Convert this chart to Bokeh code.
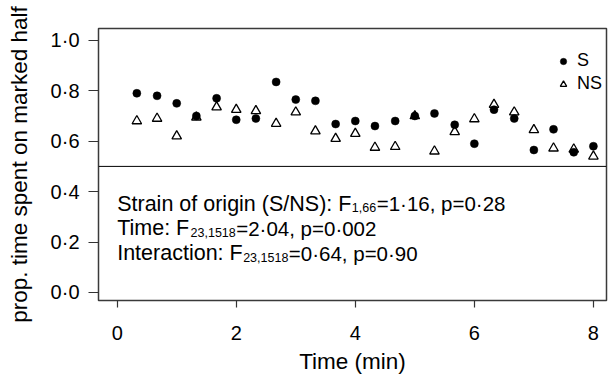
from bokeh.plotting import figure
from bokeh.models import (Range1d, FixedTicker, CustomJSTickFormatter, Span, Legend,
                          LegendItem, Label, ColumnDataSource)
from bokeh.embed import file_html
from bokeh.resources import INLINE

# ---- data ----
time_min = [0.33, 0.67, 1.00, 1.33, 1.67, 2.00, 2.33, 2.67, 3.00, 3.33, 3.67, 4.00,
            4.33, 4.67, 5.00, 5.33, 5.67, 6.00, 6.33, 6.67, 7.00, 7.33, 7.67, 8.00]
s_values = [0.79, 0.78, 0.75, 0.70, 0.77, 0.685, 0.69, 0.835, 0.765, 0.76, 0.668, 0.68,
            0.66, 0.68, 0.70, 0.71, 0.665, 0.59, 0.725, 0.69, 0.565, 0.647, 0.556, 0.58]
ns_values = [0.68, 0.69, 0.62, 0.695, 0.735, 0.725, 0.72, 0.67, 0.715, 0.64, 0.61, 0.63,
             0.575, 0.578, 0.70, 0.56, 0.637, 0.688, 0.745, 0.715, 0.645, 0.572, 0.568, 0.54]
series_names = ["S", "NS"]
x_ticks = [0, 2, 4, 6, 8]
y_ticks = [0.0, 0.2, 0.4, 0.6, 0.8, 1.0]
reference_level = 0.5
x_title = "Time (min)"
y_title = "prop. time spent on marked half"

# statistics annotation: (text before subscript, subscript, text after subscript)
stat_lines = [
    ("Strain of origin (S/NS): F", "1,66", "=1\u00b716, p=0\u00b728"),
    ("Time: F", "23,1518", "=2\u00b704, p=0\u00b7002"),
    ("Interaction: F", "23,1518", "=0\u00b764, p=0\u00b790"),
]

FONT = "Liberation Sans"

# Arial/Liberation Sans advance widths (per 1000 em) for layout of subscripts
W = {' ': 278, 'S': 667, 't': 278, 'r': 333, 'a': 556, 'i': 222, 'n': 556, 'o': 556,
     'f': 278, 'g': 556, '(': 333, ')': 333, '/': 278, 'N': 722, ':': 278, 'F': 611,
     'T': 611, 'm': 833, 'e': 556, 'I': 278, 'c': 500, ',': 278, '=': 584, 'p': 556,
     '\u00b7': 333}
for d in "0123456789":
    W[d] = 556


def text_width(s, size):
    return sum(W.get(ch, 556) for ch in s) * size / 1000.0


src = ColumnDataSource(dict(t=time_min, s=s_values, ns=ns_values))

p = figure(width=612, height=376, output_backend="svg", toolbar_location=None,
           x_range=Range1d(-0.314, 8.22), y_range=Range1d(-0.032, 1.047),
           min_border_left=98, min_border_right=6, min_border_top=28, min_border_bottom=75)

p.background_fill_color = "white"
p.border_fill_color = "white"
p.outline_line_color = "#3a3a3a"
p.outline_line_width = 1.5
p.xgrid.visible = False
p.ygrid.visible = False

span = Span(location=reference_level, dimension="width", line_color="black", line_width=1)
p.add_layout(span)

r_s = p.scatter("t", "s", source=src, marker="circle", size=8, fill_color="black",
                line_color="black", line_width=0.5)
r_ns = p.scatter("t", "ns", source=src, marker="triangle", size=9.5, fill_color=None,
                 line_color="black", line_width=1.3)

# axes
p.xaxis.ticker = FixedTicker(ticks=x_ticks)
p.yaxis.ticker = FixedTicker(ticks=y_ticks)
p.yaxis.formatter = CustomJSTickFormatter(code="return tick.toFixed(1).replace('.', '\\u00b7');")
for ax in (p.xaxis, p.yaxis):
    ax.axis_line_color = None
    ax.major_tick_line_color = "#333333"
    ax.major_tick_line_width = 1.2
    ax.minor_tick_line_color = None
    ax.major_tick_in = 0
    ax.major_label_text_font = FONT
    ax.major_label_text_font_size = "20px"
    ax.major_label_text_color = "black"
    ax.axis_label_text_font = FONT
    ax.axis_label_text_font_size = "22.5px"
    ax.axis_label_text_font_style = "normal"
    ax.axis_label_text_color = "black"

p.xaxis.major_tick_out = 7
p.xaxis.major_label_standoff = 18
p.xaxis.major_label_text_line_height = 1.0
p.xaxis.axis_label = x_title
p.xaxis.axis_label_text_line_height = 1.0
p.xaxis.axis_label_standoff = 6

p.yaxis.major_tick_out = 10
p.yaxis.major_label_standoff = 9
p.yaxis.axis_label = y_title
p.yaxis.axis_label_standoff = 16

# legend
legend = Legend(items=[LegendItem(label=series_names[0], renderers=[r_s]),
                       LegendItem(label=series_names[1], renderers=[r_ns])],
                location=(457, 206), orientation="vertical")
legend.border_line_color = None
legend.background_fill_alpha = 0
legend.padding = 0
legend.margin = 0
legend.spacing = 2
legend.glyph_width = 16
legend.glyph_height = 20
legend.label_height = 20
legend.label_standoff = 6
legend.label_text_font = FONT
legend.label_text_font_size = "18px"
legend.label_text_color = "black"
p.add_layout(legend)

# statistics text with subscripts
LEAD = 21.5   # text before the subscript
MAIN = 20.5   # text after the subscript
SUB = 12.5
line_y = [0.352, 0.254, 0.155]
sub_drop = 4.0 / 253.0
for (a, sub, b), yy in zip(stat_lines, line_y):
    wa = text_width(a, LEAD)
    ws = text_width(sub, SUB)
    p.add_layout(Label(x=0, y=yy, x_offset=0, text=a, text_font=FONT,
                       text_font_size=f"{LEAD}px", text_baseline="alphabetic",
                       text_color="black"))
    p.add_layout(Label(x=0, y=yy - sub_drop, x_offset=wa + 0.5, text=sub, text_font=FONT,
                       text_font_size=f"{SUB}px", text_baseline="alphabetic",
                       text_color="black"))
    p.add_layout(Label(x=0, y=yy, x_offset=wa + ws + 1, text=b, text_font=FONT,
                       text_font_size=f"{MAIN}px", text_baseline="alphabetic",
                       text_color="black"))

open("out.html", "w").write(file_html(p, INLINE))
